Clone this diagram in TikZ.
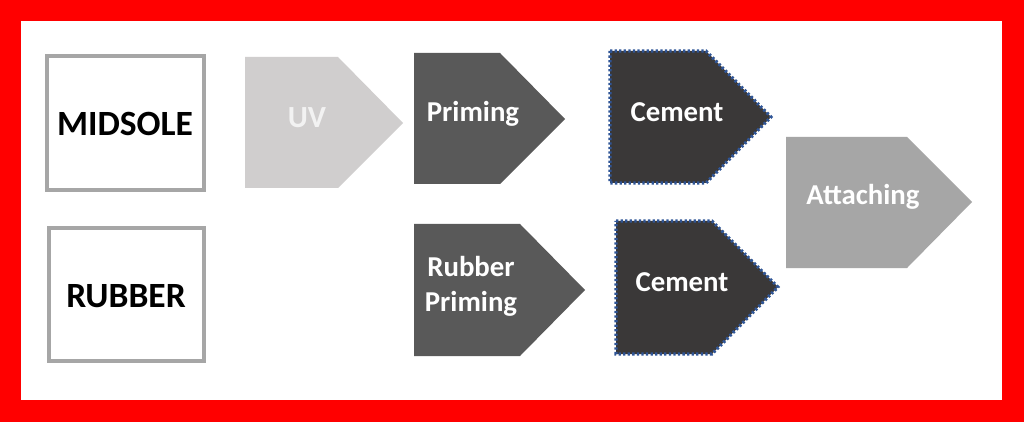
\documentclass[tikz,border=0pt]{standalone}
\usepackage{fontspec}
\setmainfont{Carlito}
\definecolor{uvgray}{HTML}{D0CECE}
\definecolor{primegray}{HTML}{595959}
\definecolor{cementgray}{HTML}{3A3838}
\definecolor{attachgray}{HTML}{A6A6A6}
\definecolor{dotblue}{HTML}{2F5597}
\tikzset{
    partbox/.style={draw=attachgray, line width=2pt, fill=white},
    partlabel/.style={font=\bfseries\fontsize{20.2}{24}\selectfont, text=black},
    proclabel/.style={font=\bfseries\fontsize{16.4}{20}\selectfont, text=white, align=center},
    cementedge/.style={draw=dotblue, line width=1.8pt, dash pattern=on 1.3pt off 1.3pt}
}
\begin{document}
\begin{tikzpicture}[x=0.02cm, y=-0.02cm]
        \useasboundingbox (0,0) rectangle (1024,422);
        % red frame
        \fill[red] (0,0) rectangle (1024,422);
        \fill[white] (21,21) rectangle (1002,400);
        % parts
        \draw[partbox] (47,56) rectangle (204,190);
        \node[partlabel] (midsole) at (125,124) {MIDSOLE};
        \draw[partbox] (49,228) rectangle (204,361);
        \node[partlabel] (rubber) at (126,296) {RUBBER};
        % upper row
        \fill[uvgray] (245,57) -- (338,57) -- (403,123) -- (338,188) -- (245,188) -- cycle;
        \node[proclabel, font=\bfseries\fontsize{17.5}{20}\selectfont, text=white!95!black] (uv) at (307,118) {UV};
        \fill[primegray] (414,53) -- (500,53) -- (565,119) -- (500,184) -- (414,184) -- cycle;
        \node[proclabel] (priming) at (473,114) {Priming};
        \fill[cementgray] (610,51) -- (706,51) -- (771,117) -- (706,183) -- (610,183) -- cycle;
        \draw[cementedge] (610,51) -- (706,51) -- (771,117) -- (706,183) -- (610,183) -- cycle;
        \node[proclabel] (cementtop) at (677,112) {Cement};
        % lower row
        \fill[primegray] (414,224) -- (520,224) -- (585,290) -- (520,356) -- (414,356) -- cycle;
        \node[proclabel, text width=4cm] (rubberpriming) at (471,286) {Rubber\\Priming};
        \fill[cementgray] (616,221) -- (712,221) -- (778,287) -- (712,354) -- (616,354) -- cycle;
        \draw[cementedge] (616,221) -- (712,221) -- (778,287) -- (712,354) -- (616,354) -- cycle;
        \node[proclabel] (cementbot) at (682,282) {Cement};
        % joining
        \fill[attachgray] (786,137) -- (907,137) -- (972,202) -- (907,268) -- (786,268) -- cycle;
        \node[proclabel] (attaching) at (863,197) {Attaching};
    \end{tikzpicture}
\end{document}
